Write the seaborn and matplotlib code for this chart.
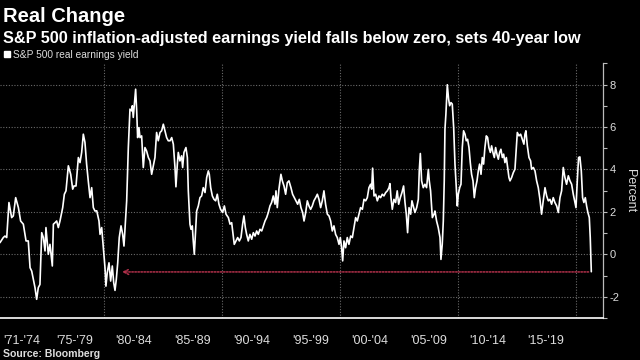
import matplotlib
matplotlib.use("Agg")
import matplotlib.pyplot as plt
from matplotlib.lines import Line2D
import pandas as pd
import seaborn as sns

# S&P 500 real earnings yield (percent)
years = [
    1971.15, 1971.43, 1971.57, 1971.72, 1971.91, 1972.14, 1972.28, 1972.48, 1972.71, 1972.90,
    1973.13, 1973.36, 1973.55, 1973.70, 1973.84, 1973.98, 1974.12, 1974.26, 1974.40, 1974.54,
    1974.69, 1974.83, 1974.97, 1975.05, 1975.25, 1975.39, 1975.59, 1975.68, 1975.82, 1975.96,
    1976.10, 1976.24, 1976.47, 1976.61, 1976.75, 1976.95, 1977.15, 1977.32, 1977.43, 1977.60,
    1977.80, 1977.94, 1978.08, 1978.22, 1978.36, 1978.50, 1978.64, 1978.79, 1978.93, 1979.07,
    1979.21, 1979.36, 1979.55, 1979.64, 1979.78, 1979.92, 1980.06, 1980.14, 1980.25, 1980.40,
    1980.54, 1980.68, 1980.80, 1980.91, 1981.02, 1981.14, 1981.27, 1981.42, 1981.56, 1981.67,
    1981.78, 1981.90, 1982.04, 1982.18, 1982.32, 1982.38, 1982.46, 1982.60, 1982.66, 1982.75,
    1982.83, 1982.94, 1983.03, 1983.17, 1983.31, 1983.45, 1983.59, 1983.74, 1983.88, 1984.02,
    1984.16, 1984.30, 1984.44, 1984.58, 1984.73, 1984.87, 1985.01, 1985.15, 1985.29, 1985.43,
    1985.58, 1985.72, 1985.86, 1986.00, 1986.08, 1986.20, 1986.28, 1986.42, 1986.56, 1986.65,
    1986.76, 1986.93, 1987.05, 1987.13, 1987.27, 1987.36, 1987.47, 1987.55, 1987.64, 1987.72,
    1987.84, 1987.98, 1988.12, 1988.26, 1988.40, 1988.55, 1988.69, 1988.83, 1988.91, 1989.03,
    1989.17, 1989.31, 1989.45, 1989.59, 1989.73, 1989.87, 1990.04, 1990.19, 1990.33, 1990.53,
    1990.67, 1990.81, 1990.95, 1991.03, 1991.18, 1991.32, 1991.46, 1991.60, 1991.74, 1991.85,
    1991.97, 1992.08, 1992.22, 1992.36, 1992.51, 1992.65, 1992.79, 1992.93, 1993.07, 1993.21,
    1993.36, 1993.50, 1993.64, 1993.78, 1993.92, 1994.06, 1994.20, 1994.34, 1994.49, 1994.57,
    1994.68, 1994.82, 1994.99, 1995.11, 1995.25, 1995.39, 1995.53, 1995.67, 1995.84, 1995.98,
    1996.13, 1996.27, 1996.41, 1996.55, 1996.69, 1996.83, 1996.95, 1997.09, 1997.23, 1997.37,
    1997.51, 1997.65, 1997.79, 1997.94, 1998.08, 1998.22, 1998.36, 1998.50, 1998.64, 1998.78,
    1998.93, 1999.07, 1999.21, 1999.35, 1999.49, 1999.63, 1999.77, 1999.92, 2000.03, 2000.14,
    2000.23, 2000.34, 2000.48, 2000.62, 2000.76, 2000.91, 2001.05, 2001.19, 2001.33, 2001.47,
    2001.61, 2001.75, 2001.90, 2002.04, 2002.18, 2002.32, 2002.46, 2002.60, 2002.69, 2002.77,
    2002.89, 2003.03, 2003.17, 2003.31, 2003.45, 2003.59, 2003.73, 2003.88, 2004.02, 2004.16,
    2004.24, 2004.33, 2004.44, 2004.58, 2004.72, 2004.86, 2004.98, 2005.12, 2005.26, 2005.40,
    2005.52, 2005.63, 2005.74, 2005.86, 2006.00, 2006.11, 2006.22, 2006.36, 2006.51, 2006.65,
    2006.73, 2006.82, 2006.93, 2007.07, 2007.21, 2007.35, 2007.50, 2007.58, 2007.69, 2007.84,
    2007.98, 2008.06, 2008.20, 2008.34, 2008.49, 2008.57, 2008.68, 2008.77, 2008.85, 2008.91,
    2008.99, 2009.11, 2009.22, 2009.31, 2009.42, 2009.53, 2009.65, 2009.76, 2009.87, 2009.96,
    2010.04, 2010.16, 2010.27, 2010.38, 2010.49, 2010.61, 2010.72, 2010.83, 2010.95, 2011.06,
    2011.17, 2011.29, 2011.40, 2011.51, 2011.63, 2011.74, 2011.85, 2011.97, 2012.08, 2012.19,
    2012.30, 2012.42, 2012.53, 2012.64, 2012.76, 2012.87, 2012.98, 2013.10, 2013.21, 2013.32,
    2013.44, 2013.55, 2013.66, 2013.78, 2013.89, 2014.00, 2014.12, 2014.23, 2014.34, 2014.43,
    2014.57, 2014.71, 2014.85, 2014.93, 2015.05, 2015.19, 2015.33, 2015.47, 2015.61, 2015.70,
    2015.78, 2015.90, 2016.04, 2016.18, 2016.26, 2016.41, 2016.55, 2016.69, 2016.83, 2016.97,
    2017.11, 2017.25, 2017.40, 2017.54, 2017.68, 2017.82, 2017.96, 2018.10, 2018.24, 2018.39,
    2018.53, 2018.67, 2018.81, 2018.95, 2019.09, 2019.23, 2019.38, 2019.52, 2019.66, 2019.80,
    2019.94, 2020.03, 2020.14, 2020.25, 2020.36, 2020.48, 2020.59, 2020.70, 2020.82, 2020.93,
    2021.04, 2021.16, 2021.24, 2021.33,
]
real_yield = [
    0.55, 0.79, 0.86, 0.79, 2.44, 1.73, 1.81, 2.67, 2.20, 1.57,
    1.42, 0.63, 0.63, -0.63, -0.79, -1.18, -1.57, -2.12, -1.57, -1.42,
    1.02, 0.79, 0.16, 1.26, 0.00, 0.47, -0.55, 1.42, 1.49, 1.57,
    1.26, 1.57, 2.20, 2.83, 2.99, 4.17, 3.77, 3.07, 3.22, 3.22,
    4.56, 4.32, 4.80, 5.66, 5.27, 4.25, 3.46, 2.67, 3.14, 2.20,
    2.04, 2.05, 1.57, 0.94, 1.26, 0.31, -0.63, -1.50, -0.87, -0.40,
    -1.26, -0.55, -1.34, -1.70, -1.18, -0.40, 0.79, 1.34, 0.94, 0.39,
    1.42, 2.52, 5.03, 6.84, 6.76, 7.00, 6.45, 7.39, 7.78, 6.76,
    5.50, 5.97, 5.50, 5.58, 4.09, 5.03, 4.87, 4.56, 4.40, 3.77,
    4.17, 4.56, 5.74, 5.35, 5.74, 5.82, 6.13, 5.82, 5.50, 5.35,
    5.35, 5.50, 5.19, 4.09, 3.18, 4.25, 4.80, 4.40, 4.64, 4.09,
    4.80, 5.03, 4.56, 2.99, 1.42, 1.18, 1.34, 0.63, 0.00, 0.79,
    2.04, 2.28, 2.67, 2.75, 3.14, 2.91, 3.62, 3.93, 3.77, 3.14,
    2.75, 2.59, 2.52, 2.83, 2.36, 2.12, 1.97, 2.28, 1.89, 1.73,
    1.42, 1.49, 0.86, 0.47, 0.63, 0.79, 0.63, 0.79, 1.42, 1.81,
    1.26, 0.94, 0.63, 0.94, 0.71, 1.02, 0.86, 1.10, 0.94, 1.18,
    1.10, 1.34, 1.57, 1.73, 1.97, 2.28, 2.44, 2.75, 2.36, 2.99,
    2.20, 3.07, 3.77, 3.46, 3.22, 2.83, 3.38, 3.46, 3.14, 2.83,
    2.67, 2.52, 2.36, 2.59, 2.20, 1.97, 1.57, 1.97, 2.52, 2.28,
    2.12, 2.28, 2.52, 2.67, 2.83, 2.59, 2.20, 2.52, 2.99, 2.36,
    1.89, 1.81, 1.57, 1.10, 1.34, 0.94, 0.79, 0.47, 0.79, 0.31,
    -0.31, 0.63, 0.31, 0.79, 0.47, 0.86, 0.79, 1.26, 1.73, 1.57,
    1.89, 2.20, 2.12, 2.59, 2.52, 2.67, 3.14, 3.30, 3.07, 4.06,
    2.75, 2.83, 2.52, 2.75, 2.67, 2.83, 2.75, 2.91, 2.99, 3.14,
    3.33, 2.67, 2.12, 2.59, 2.44, 2.99, 2.36, 2.67, 2.91, 3.22,
    2.44, 1.89, 1.02, 2.20, 1.89, 2.52, 2.28, 1.97, 2.20, 2.59,
    3.93, 4.75, 3.46, 3.14, 3.30, 3.14, 4.00, 3.46, 2.99, 1.73,
    1.89, 2.04, 1.57, 1.26, 0.79, -0.24, 0.47, 1.57, 3.46, 5.90,
    6.60, 7.99, 7.31, 7.00, 7.15, 7.08, 5.97, 4.25, 3.14, 2.28,
    2.83, 3.14, 3.30, 5.03, 5.82, 5.66, 5.35, 5.42, 5.03, 4.32,
    3.77, 3.46, 2.67, 3.14, 3.46, 3.93, 4.25, 3.77, 4.56, 4.25,
    5.03, 5.58, 5.50, 5.03, 4.80, 5.11, 4.80, 4.56, 5.03, 4.72,
    4.48, 4.80, 4.95, 4.56, 4.72, 4.32, 4.56, 4.09, 3.62, 3.46,
    3.62, 3.85, 4.01, 4.72, 5.74, 5.58, 5.66, 5.42, 5.19, 5.66,
    5.82, 5.11, 4.56, 4.40, 4.01, 4.09, 3.93, 3.46, 3.14, 2.59,
    1.89, 2.52, 3.14, 2.75, 2.52, 2.59, 2.36, 2.67, 2.44, 2.28,
    1.97, 2.67, 2.99, 4.09, 3.62, 3.30, 3.70, 3.46, 3.30, 2.83,
    2.44, 2.20, 3.46, 4.56, 4.59, 3.93, 2.67, 2.44, 2.67, 2.28,
    1.97, 1.73, 0.79, -0.82,
]

period_labels = ["'71-'74", "'75-'79", "'80-'84", "'85-'89", "'90-'94",
                 "'95-'99", "'00-'04", "'05-'09", "'10-'14", "'15-'19"]
label_years = [1973.0, 1977.5, 1982.5, 1987.5, 1992.5,
               1997.5, 2002.5, 2007.5, 2012.5, 2017.5]
period_bounds = [1975, 1980, 1985, 1990, 1995, 2000, 2005, 2010, 2015, 2020]
grid_years = [1980, 1990, 2000, 2010, 2020]
y_ticks = [-2, 0, 2, 4, 6, 8]
y_minor = [-3, -1, 1, 3, 5, 7, 9]

# 40-year-low marker
low_level = -0.83
low_start = 2021.1
low_end = 1981.5

df = pd.DataFrame({"year": years, "real_yield": real_yield})

sns.set_theme(style="dark", rc={
    "figure.facecolor": "black",
    "axes.facecolor": "black",
    "axes.edgecolor": "white",
    "text.color": "white",
    "axes.labelcolor": "white",
    "xtick.color": "#dddddd",
    "ytick.color": "#dddddd",
    "axes.unicode_minus": False,
})
plt.rcParams["font.family"] = ["Liberation Sans", "DejaVu Sans"]

fig = plt.figure(figsize=(6.4, 3.6), dpi=100)
ax = fig.add_axes([0.0, 0.1167, 0.9427, 0.7075])

grid_kw = dict(color="#6a6a6a", lw=0.8, ls=(0, (1, 1.5)), zorder=0)
for gy in y_ticks:
    ax.axhline(gy, **grid_kw)
for gx in grid_years:
    ax.axvline(gx, **grid_kw)

sns.lineplot(data=df, x="year", y="real_yield", color="white", lw=1.2,
             estimator=None, ax=ax, zorder=3)

ax.annotate("", xy=(low_end, low_level), xytext=(low_start, low_level),
            arrowprops=dict(arrowstyle="->", color="#b0304a", lw=1.1,
                            ls=(0, (1, 1)), shrinkA=0, shrinkB=0,
                            mutation_scale=9), zorder=2)

ax.set_xlim(1971.15, 2022.35)
ax.set_ylim(-3, 9)

# x axis: separators at period bounds, labels centred in between
ax.set_xticks(period_bounds)
ax.set_xticklabels([])
ax.set_xticks(label_years, minor=True)
ax.set_xticklabels(period_labels, minor=True)
ax.tick_params(axis="x", which="major", length=20, width=0.8,
               color="#777777", direction="out")
ax.tick_params(axis="x", which="minor", length=0, pad=12, labelsize=9,
               labelcolor="#dddddd")

# y axis on the right
ax.yaxis.tick_right()
ax.yaxis.set_label_position("right")
ax.set_yticks(y_ticks)
ax.set_yticks(y_minor, minor=True)
ax.tick_params(axis="y", which="both", direction="out", length=3, width=0.8,
               color="#bbbbbb", pad=1.5, labelsize=8)
ax.set_ylabel("Percent", rotation=270, labelpad=12, fontsize=9, color="#dddddd")
ax.set_xlabel("")

for side in ["left", "top"]:
    ax.spines[side].set_visible(False)
ax.spines["right"].set_color("#bbbbbb")
ax.spines["right"].set_linewidth(0.9)
ax.spines["bottom"].set_color("white")
ax.spines["bottom"].set_linewidth(1.2)

handle = Line2D([], [], marker="s", ls="", color="white", markersize=5)
fig.legend([handle], ["S&P 500 real earnings yield"], loc="center left",
           bbox_to_anchor=(4 / 640, 1 - 55 / 360), frameon=False, fontsize=7.3,
           handlelength=0.6, handletextpad=0.25, borderpad=0, borderaxespad=0,
           labelcolor="#dddddd")

fig.text(0.004, 1 - 22 / 360, "Real Change", fontsize=14.5, weight="bold",
         color="white", va="baseline")
fig.text(0.004, 1 - 43 / 360,
         "S&P 500 inflation-adjusted earnings yield falls below zero, sets 40-year low",
         fontsize=11.7, weight="bold", color="white", va="baseline")
fig.text(0.005, 1 - 354 / 360, "Source: Bloomberg", fontsize=7.6, weight="bold",
         color="#dddddd", va="center")

fig.savefig("out.png", dpi=100, facecolor="black")
